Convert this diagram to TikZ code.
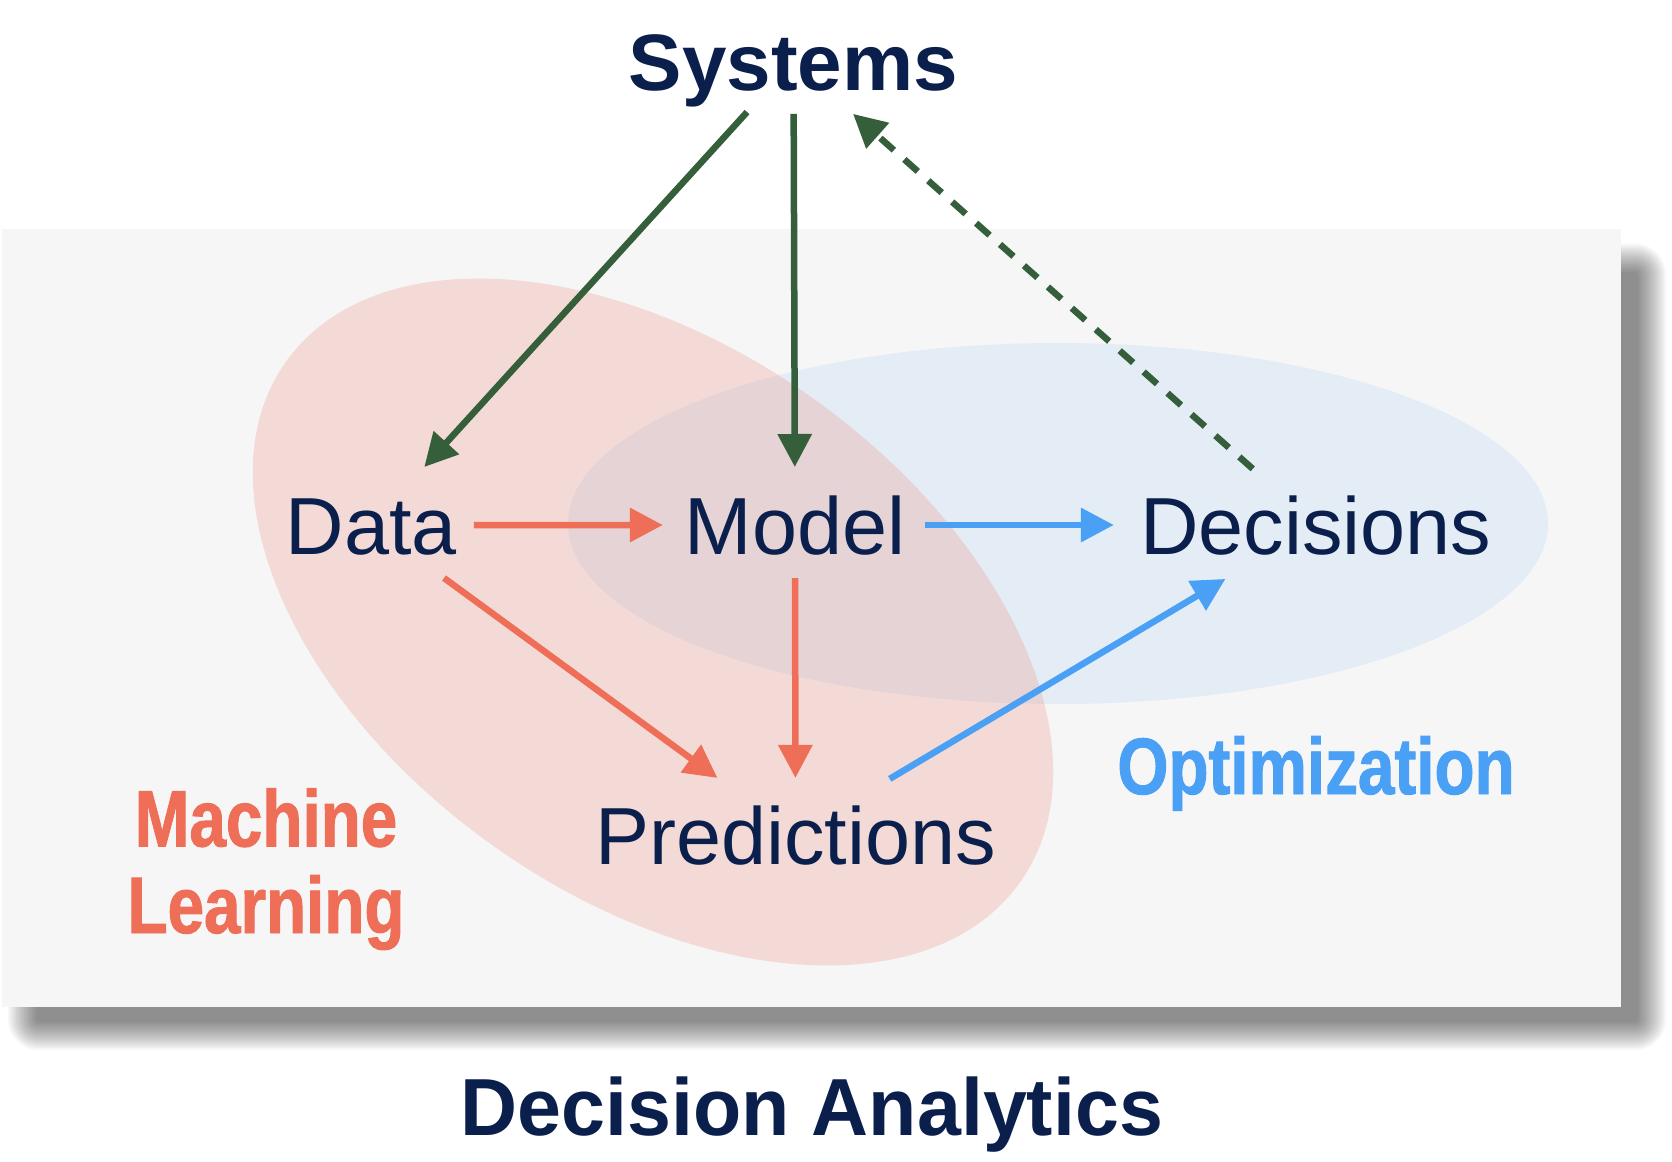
\documentclass[tikz,border=0pt]{standalone}
\usepackage{fontspec}
\setmainfont{Liberation Sans}
\newfontfamily\condfont[FakeStretch=0.82,FakeBold=1.2]{Liberation Sans Bold}
\newfontfamily\headfont[FakeStretch=0.975]{Liberation Sans Bold}
\usetikzlibrary{arrows.meta,calc}
\definecolor{navy}{RGB}{11,31,77}
\definecolor{mlred}{RGB}{238,110,88}
\definecolor{optblue}{RGB}{74,160,245}
\definecolor{sysgreen}{RGB}{53,94,58}
\definecolor{panelgray}{RGB}{246,246,246}
\begin{document}
\begin{tikzpicture}[x=0.5pt,y=-0.5pt,
  lbl/.style={inner sep=0pt, outer sep=0pt, text height=29pt, text depth=0pt, text=navy, font=\fontsize{40.5}{48}\selectfont},
  arr/.style={line width=3.25pt, -{Triangle[length=16.5pt,width=16.5pt]}},
  sysarr/.style={arr, draw=sysgreen},
  mlarr/.style={arr, draw=mlred},
  optarr/.style={arr, draw=optblue},
  shadowlayer/.style={fill=black, opacity=0.036},
  backpanel/.style={fill=panelgray}]
\useasboundingbox (0,0) rectangle (1672,1162);
\fill[white] (0,0) rectangle (1672,1162);
% soft shadow of the panel
\foreach \e [evaluate=\e as \r using (17+\e)*0.5] in {14,12,...,-14} {
  \fill[shadowlayer, rounded corners=\r pt] (22-\e,258-\e) rectangle (1652+\e,1036+\e);
}
% panel
\path[backpanel] (2,229) rectangle (1621,1007);
% ellipses
\fill[optblue, opacity=0.1] (1058,523.5) ellipse [x radius=245pt, y radius=90.25pt];
\fill[mlred, opacity=0.2, rotate around={-35.3:(653,622)}] (653,622) ellipse [x radius=225pt, y radius=137.5pt];
% labels
\node[lbl, font=\bfseries\fontsize{40}{48}\selectfont] (sys) at (793.5,61) {Systems};
\node[lbl] (data) at (371.5,525) {Data};
\node[lbl] (model) at (795,525) {Model};
\node[lbl] (dec) at (1316,525) {Decisions};
\node[lbl] (pred) at (795.5,835) {Predictions};
\node[anchor=base, inner sep=0pt, align=center, text=mlred, font=\condfont\fontsize{40}{43.3}\selectfont] (ml) at (266,933) {Machine\\Learning};
\node[anchor=base, inner sep=0pt, text=optblue, font=\condfont\fontsize{40}{48}\selectfont] (opt) at (1316,794) {Optimization};
\node[anchor=base, inner sep=0pt, text=navy, font=\headfont\fontsize{40.5}{48}\selectfont] (da) at (812,1135) {Decision Analytics};
% connectors
\draw[sysarr] ($(sys)!0.110!(data)$) -- ($(sys)!0.875!(data)$);
\draw[sysarr] ($(sys)!0.114!(model)$) -- ($(sys)!0.875!(model)$);
\draw[sysarr, dash pattern=on 9pt off 7pt] ($(dec)!0.121!(sys)$) -- ($(dec)!0.886!(sys)$);
\draw[mlarr] ($(data)!0.242!(model)$) -- ($(data)!0.688!(model)$);
\draw[optarr] ($(model)!0.250!(dec)$) -- ($(model)!0.612!(dec)$);
\draw[mlarr] ($(model)!0.171!(pred)$) -- ($(model)!0.816!(pred)$);
\draw[mlarr] ($(data)!0.171!(pred)$) -- ($(data)!0.816!(pred)$);
\draw[optarr] ($(pred)!0.181!(dec)$) -- ($(pred)!0.826!(dec)$);
\end{tikzpicture}
\end{document}
